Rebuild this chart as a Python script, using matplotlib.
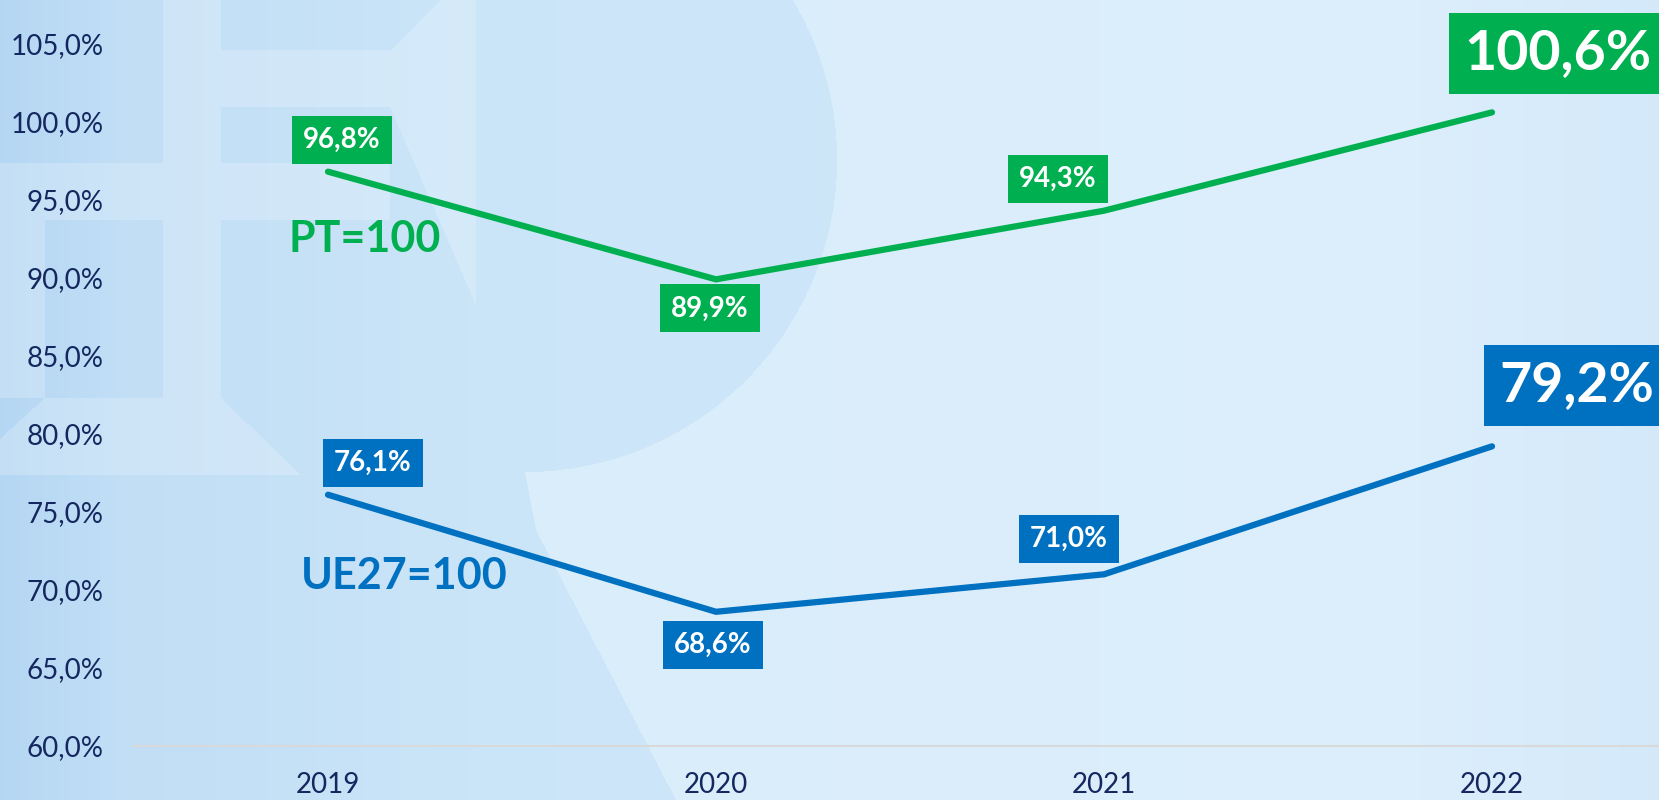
import numpy as np
import matplotlib.pyplot as plt
from matplotlib.path import Path

# --- Dados -------------------------------------------------------------------
anos = ['2019', '2020', '2021', '2022']
pt_vals = [96.8, 89.9, 94.3, 100.6]   # PT=100
ue_vals = [76.1, 68.6, 71.0, 79.2]    # UE27=100
y_ticks = [60, 65, 70, 75, 80, 85, 90, 95, 100, 105]

VERDE = '#00B050'
AZUL = '#0070C0'
NAVY = '#14285F'

plt.rcParams['font.family'] = ['Lato', 'DejaVu Sans']

W, H = 1659, 800
fig = plt.figure(figsize=(W / 100, H / 100), dpi=100)

# --- Fundo (gradiente + marca de agua), feito como imagem --------------------
yy, xx = np.mgrid[0:H, 0:W] + 0.5
pts = np.column_stack([xx.ravel(), yy.ravel()])

def mascara(poly):
    return Path(poly).contains_points(pts).reshape(H, W)

stops_x = [0, 120, 500, 1400, W]
cols = np.array([[0.76, 0.87, 0.965],
                 [0.81, 0.90, 0.975],
                 [0.855, 0.93, 0.985],
                 [0.865, 0.935, 0.988],
                 [0.83, 0.915, 0.98]])
img = np.stack([np.interp(xx, stops_x, cols[:, c]) for c in range(3)], axis=-1)

# zona mais escura (circulo + lado esquerdo)
escuro = ((xx - 525) ** 2 + (yy - 160) ** 2 <= 312 ** 2) | \
    mascara([(0, 0), (525, 0), (525, 472), (536, 530), (676, H), (0, H)])
img[escuro] *= np.array([0.935, 0.968, 0.988])

# tracos claros do logotipo
claro = np.zeros((H, W), bool)
for poly in [[(163, 0), (221, 0), (221, 475), (163, 475)],
             [(221, 50), (392, 50), (440, 0), (476, 0), (476, 107), (221, 107)],
             [(0, 163), (390, 163), (390, 220), (0, 220)],
             [(390, 107), (476, 107), (476, 305)],
             [(0, 220), (45, 220), (45, 398), (0, 398)],
             [(0, 439), (45, 398), (221, 398), (301, 475), (0, 475)]]:
    claro |= mascara(poly)
img[claro] += (1 - img[claro]) * 0.2

bg = fig.add_axes([0, 0, 1, 1], zorder=0)
bg.imshow(np.clip(img, 0, 1), extent=[0, W, H, 0], aspect='auto')
bg.axis('off')

# --- Grafico -----------------------------------------------------------------
ax = fig.add_axes([134 / W, 54 / H, 1552 / W, (746 - 43.7) / H], zorder=1)
ax.set_facecolor('none')
x = np.arange(len(anos))

ax.plot(x, pt_vals, color=VERDE, lw=4.5, solid_capstyle='round', solid_joinstyle='miter', zorder=3)
ax.plot(x, ue_vals, color=AZUL, lw=4.5, solid_capstyle='round', solid_joinstyle='miter', zorder=3)

ax.set_xlim(-0.5, 3.5)
ax.set_ylim(60, 105)
ax.set_yticks(y_ticks)
ax.set_yticklabels([f'{v:.1f}%'.replace('.', ',') for v in y_ticks])
ax.set_xticks(x)
ax.set_xticklabels(anos)
ax.tick_params(axis='y', length=0, pad=22, labelsize=20, labelcolor=NAVY)
ax.tick_params(axis='x', length=0, pad=19, labelsize=20, labelcolor=NAVY)
for s in ['top', 'right', 'left']:
    ax.spines[s].set_visible(False)
ax.spines['bottom'].set_color('#D9D9D9')
ax.spines['bottom'].set_linewidth(1.5)


def fmt(v):
    return f'{v:.1f}%'.replace('.', ',')


# deslocamentos dos rotulos (pixeis)
off_pt = [(14, 32), (-6, -29), (-46, 32), (66, 59)]
off_ue = [(45, 32), (-3, -33), (-35, 35), (85, 61)]

for vals, offs, cor in [(pt_vals, off_pt, VERDE), (ue_vals, off_ue, AZUL)]:
    for i, v in enumerate(vals):
        grande = i == len(vals) - 1
        ax.annotate(fmt(v), (i, v), xytext=offs[i], textcoords='offset pixels',
                    ha='center', va='center', color='white', fontweight='bold',
                    fontsize=40 if grande else 20, annotation_clip=False, zorder=5,
                    bbox=dict(boxstyle='square,pad=%s' % (0.28 if grande else 0.4), fc=cor, ec='none'))

ax.text(0.095, 92.5, 'PT=100', color=VERDE, fontsize=31, fontweight='bold',
        ha='center', va='center', zorder=4)
ax.text(0.196, 70.9, 'UE27=100', color=AZUL, fontsize=31, fontweight='bold',
        ha='center', va='center', zorder=4)

fig.savefig('out.png', dpi=100)
